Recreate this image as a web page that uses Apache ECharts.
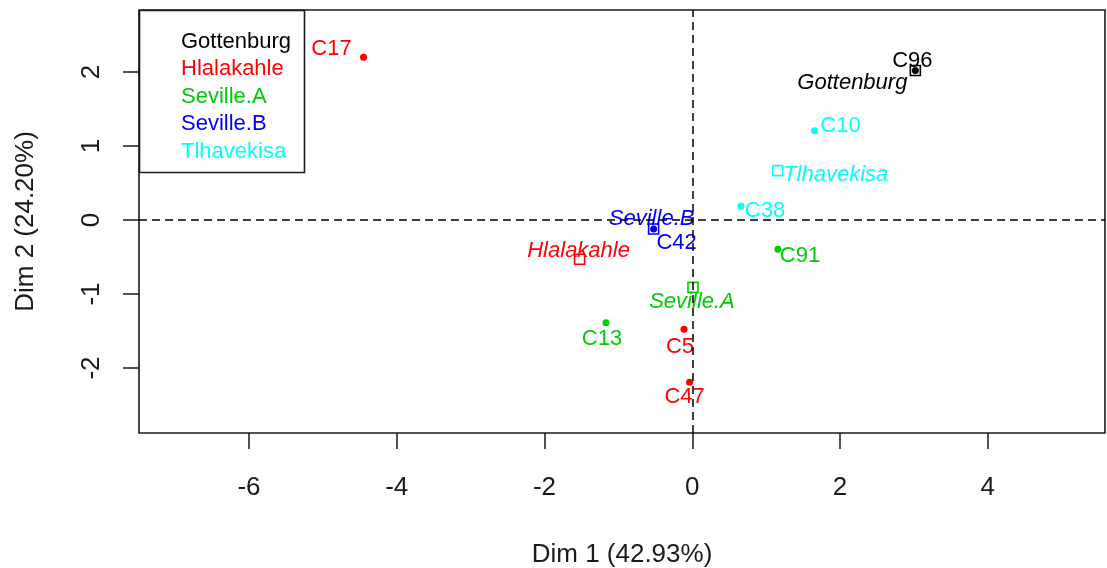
<!DOCTYPE html>
<html>
<head>
<meta charset="utf-8">
<title>Individuals factor map</title>
<script src="https://cdn.jsdelivr.net/npm/echarts@6/dist/echarts.min.js"></script>
<style>
  html, body { margin: 0; padding: 0; background: #fff; }
  #chart { width: 1107px; height: 568px; }
</style>
</head>
<body>
<div id="chart"></div>
<script>
// Individuals (coordinates on the first two dimensions) and their group
const individuals = ['C17', 'C96', 'C10', 'C38', 'C91', 'C42', 'C13', 'C5', 'C47'];
const indDim1 = [-4.45, 3.02, 1.655, 0.659, 1.16, -0.523, -1.168, -0.112, -0.036];
const indDim2 = [2.20, 2.02, 1.207, 0.189, -0.396, -0.122, -1.388, -1.477, -2.193];
const indGroup = ['Hlalakahle', 'Gottenburg', 'Tlhavekisa', 'Tlhavekisa', 'Seville.A',
                  'Seville.B', 'Seville.A', 'Hlalakahle', 'Hlalakahle'];

// Group centres (supplementary categories)
const groups = ['Gottenburg', 'Hlalakahle', 'Seville.A', 'Seville.B', 'Tlhavekisa'];
const grpDim1 = [3.02, -1.525, 0.01, -0.523, 1.157];
const grpDim2 = [2.02, -0.531, -0.91, -0.122, 0.667];

// Axis ticks
const xTicks = [-6, -4, -2, 0, 2, 4];
const yTicks = [-2, -1, 0, 1, 2];

const groupColor = {
  'Gottenburg': '#000000',
  'Hlalakahle': '#FF0000',
  'Seville.A': '#00CD00',
  'Seville.B': '#0000FF',
  'Tlhavekisa': '#00FFFF'
};

// label placement relative to each mark (px)
const labelOffset = {
  C17: [-32, -8], C96: [-3, -10], C10: [26, -5], C38: [24, 5], C91: [22, 7],
  C42: [23, 14], C13: [-4, 16], C5: [-4, 18], C47: [-5, 15],
  Gottenburg: [-63, 12], Hlalakahle: [-1, -8], 'Seville.A': [-1, 15],
  'Seville.B': [-2, -10], Tlhavekisa: [58, 4]
};

const FONT = '"Liberation Sans", Arial, sans-serif';

const series = groups.map((g, gi) => {
  const color = groupColor[g];
  const data = [];
  individuals.forEach((name, i) => {
    if (indGroup[i] !== g) return;
    data.push({
      name: name,
      value: [indDim1[i], indDim2[i]],
      symbol: 'circle',
      symbolSize: 7,
      itemStyle: { color: color, opacity: 1 },
      label: {
        show: true, formatter: name, position: 'inside', offset: labelOffset[name],
        color: color, fontSize: 22, fontFamily: FONT
      }
    });
  });
  data.push({
    name: g,
    value: [grpDim1[gi], grpDim2[gi]],
    symbol: 'rect',
    symbolSize: 10,
    itemStyle: { color: 'rgba(0,0,0,0)', borderColor: color, borderWidth: 1.6, opacity: 1 },
    label: {
      show: true, formatter: g, position: 'inside', offset: labelOffset[g],
      color: color, fontSize: 22, fontStyle: 'italic', fontFamily: FONT
    }
  });
  return {
    name: g,
    type: 'scatter',
    data: data,
    itemStyle: { color: color, opacity: 1 },
    z: 3,
    emphasis: { disabled: true }
  };
});

// dashed reference lines through the origin
series.push({
  name: 'origin',
  type: 'scatter',
  data: [],
  markLine: {
    silent: true,
    symbol: ['none', 'none'],
    label: { show: false },
    lineStyle: { color: '#000', width: 1.5, type: [8, 5], opacity: 1 },
    data: [{ xAxis: 0 }, { yAxis: 0 }]
  },
  z: 1
});

const chart = echarts.init(document.getElementById('chart'), null, { renderer: 'canvas' });
chart.setOption({
  animation: false,
  backgroundColor: '#fff',
  textStyle: { fontFamily: FONT },
  grid: {
    left: 139, right: 2, top: 10, bottom: 135,
    containLabel: false,
    outerBoundsMode: 'none',
    show: true, borderColor: '#1a1a1a', borderWidth: 1.6, backgroundColor: 'transparent'
  },
  legend: {
    orient: 'vertical',
    left: 176, top: 28,
    padding: 0,
    itemGap: 0,
    itemWidth: 0, itemHeight: 0,
    icon: 'none',
    selectedMode: false,
    textStyle: { fontSize: 22, lineHeight: 27.5, fontFamily: FONT },
    data: groups.map(g => ({ name: g, textStyle: { color: groupColor[g] } }))
  },
  graphic: [{
    type: 'rect',
    shape: { x: 139.5, y: 10.5, width: 165, height: 162 },
    style: { fill: 'rgba(0,0,0,0)', stroke: '#1a1a1a', lineWidth: 1.6 },
    z: 10
  }],
  xAxis: {
    type: 'value',
    min: -7.489, max: 5.587,
    name: 'Dim 1 (42.93%)',
    nameLocation: 'middle',
    nameGap: 109,
    nameTextStyle: { fontSize: 26, color: '#1a1a1a', fontFamily: FONT },
    axisLine: { show: false, onZero: false },
    splitLine: { show: false },
    axisTick: { show: true, length: 16, customValues: xTicks, lineStyle: { color: '#1a1a1a', width: 1.5 } },
    axisLabel: { customValues: xTicks, fontSize: 26, color: '#1a1a1a', margin: 42, fontFamily: FONT }
  },
  yAxis: {
    type: 'value',
    min: -2.878, max: 2.838,
    name: 'Dim 2 (24.20%)',
    nameLocation: 'middle',
    nameGap: 100,
    nameRotate: 90,
    nameTextStyle: { fontSize: 26, color: '#1a1a1a', fontFamily: FONT },
    axisLine: { show: false, onZero: false },
    splitLine: { show: false },
    axisTick: { show: true, length: 16, customValues: yTicks, lineStyle: { color: '#1a1a1a', width: 1.5 } },
    axisLabel: { customValues: yTicks, rotate: 90, fontSize: 26, color: '#1a1a1a', margin: 34, fontFamily: FONT }
  },
  series: series
});
</script>
</body>
</html>
